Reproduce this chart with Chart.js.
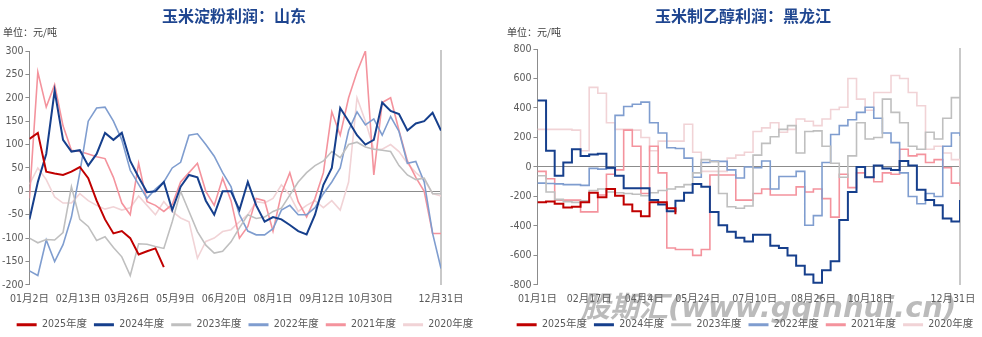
<!DOCTYPE html>
<html>
<head>
<meta charset="utf-8">
<script src="https://cdn.jsdelivr.net/npm/chart.js@4.4.1/dist/chart.umd.min.js"></script>
<style>
  body { margin: 0; width: 982px; height: 337px; background: #fff; position: relative; overflow: hidden; }
  .panel { position: absolute; top: 0; height: 344px; }
  .title { position: absolute; top: 3px; font: bold 16px 'Noto Sans CJK SC', sans-serif; color: #1f4690; white-space: nowrap; }
  .unit { position: absolute; top: 24px; font: 10px 'Noto Sans CJK SC', sans-serif; color: #404040; white-space: nowrap; }
  .mark { position: absolute; left: 581px; top: 283px; font: italic bold 29px 'DejaVu Sans', 'Noto Sans CJK SC', sans-serif;
          color: rgba(120,120,120,0.5); white-space: nowrap; z-index: 5; }
</style>
</head>
<body>
<div class="panel" style="left:0;width:490px"><canvas id="sd"></canvas></div>
<div class="panel" style="left:490px;width:492px"><canvas id="hlj"></canvas></div>
<div class="title" style="left:162px">玉米淀粉利润：山东</div>
<div class="unit" style="left:3px">单位：元/吨</div>
<div class="title" style="left:655px">玉米制乙醇利润：黑龙江</div>
<div class="unit" style="left:507px">单位：元/吨</div>
<div class="mark">股期汇(www.gqinhui.cn)</div>
<script>
// 序号步长：每个点间隔 5 个交易日
const STEP = 5;
const years = ['2025年度', '2024年度', '2023年度', '2022年度', '2021年度', '2020年度'];
const colors = ['#c00000', '#163f8c', '#bfbfbf', '#7f9dcf', '#f4939d', '#f1d3d6'];
const widths = [2, 2, 1.6, 1.6, 1.6, 1.6];

// 玉米淀粉利润：山东
const sdTickPos = [0, 29, 58, 87, 116, 145, 174, 203, 245];
const sdTickLabels = ['01月2日', '02月13日', '03月26日', '05月9日', '06月20日', '08月1日', '09月12日', '10月30日', '12月31日'];
const sd2025 = [112, 125, 42, 38, 35, 42, 52, 28, -20, -60, -90, -85, -100, -135, -128, -122, -162,
  null, null, null, null, null, null, null, null, null, null, null, null, null, null, null, null,
  null, null, null, null, null, null, null, null, null, null, null, null, null, null, null, null, null];
const sd2024 = [-60, 20, 80, 215, 110, 85, 88, 55, 80, 125,
  110, 125, 65, 30, -2, 0, 20, -40, 10, 35,
  30, -20, -50, 0, 0, -40, 20, -30, -65, -55,
  -60, -72, -85, -92, -50, 14, 50, 178, 150, 120,
  100, 110, 190, 172, 165, 130, 145, 150, 168, 130];
const sd2023 = [-100, -110, -103, -104, -88, 10, -60, -75, -105, -97,
  -120, -140, -180, -112, -113, -118, -122, -65, 0, -43,
  -86, -115, -132, -128, -108, -78, -50, -58, -55, -43,
  -36, -8, 20, 40, 55, 65, 85, 72, 100, 105,
  95, 90, 88, 85, 55, 35, 25, 28, -5, -5];
const sd2022 = [-170, -180, -104, -150, -114, -55, 40, 150, 178, 180,
  150, 110, 45, 15, -15, 5, 20, 50, 62, 120,
  123, 100, 75, 40, 10, -50, -85, -93, -93, -80,
  -40, -30, -50, -50, -35, -5, 20, 50, 130, 170,
  142, 155, 120, 160, 128, 60, 64, 20, -90, -165];
const sd2021 = [-15, 255, 180, 228, 140, 88, 85, 80, 74, 70,
  30, -25, -50, 60, -22, -30, -43, -28, 20, 40,
  60, 0, -30, 28, -20, -100, -75, -15, -20, -85,
  -5, 40, -22, -55, -15, 40, 170, 120, 200, 255,
  300, 35, 190, 200, 130, 65, 30, 0, -90, -90];
const sd2020 = [15, 50, 25, -12, -25, -25, -5, -20, -30, -38,
  -33, -40, -35, -10, -30, -50, -22, -43, -57, -65,
  -143, -107, -100, -86, -82, -65, -50, -22, -25, -15,
  14, -8, -43, -30, -20, -35, -20, -40, 20, 200,
  150, 90, 90, 100, 85, 60, 40, 25, -5, -10];

// 玉米制乙醇利润：黑龙江
const hljTickPos = [0, 30, 62, 93, 126, 160, 193, 241];
const hljTickLabels = ['01月1日', '02月17日', '04月4日', '05月24日', '07月10日', '08月26日', '10月18日', '12月31日'];
const hlj2025 = [-240, -235, -250, -275, -270, -240, -175, -205, -150, -195, -255, -300, -335, -240, -240, -280, -320,
  null, null, null, null, null, null, null, null, null, null, null, null, null, null, null, null,
  null, null, null, null, null, null, null, null, null, null, null, null, null, null, null, null, null];
const hlj2024 = [450, 110, -60, 30, 120, 75, 85, 90, -5, -60,
  -145, -145, -145, -225, -255, -300, -230, -175, -115, -135,
  -305, -395, -440, -480, -505, -460, -460, -535, -550, -600,
  -670, -730, -785, -700, -640, -360, -170, 0, -70, 10,
  -10, -20, 40, 10, -155, -225, -260, -350, -370, -225];
const hlj2023 = [-60, -170, -220, -235, -240, -230, -160, -150, -170, -175,
  -180, -185, -195, -175, -160, -150, -135, -120, -40, 50,
  35, -180, -270, -280, -265, 80, 160, 205, 255, 280,
  95, 240, 245, 140, 25, -70, 75, 300, 190, 200,
  460, 370, 300, 140, 120, 235, 190, 330, 470, 465];
const hlj2022 = [-110, -112, -115, -120, -120, -125, -10, -15, -10, 350,
  410, 425, 440, 300, 230, 130, 125, 60, -70, 30,
  40, 38, -20, -75, 0, -5, 40, -150, -65, -65,
  -30, -395, -330, 30, 220, 280, 320, 370, 405, 330,
  230, 165, -40, -200, -250, -180, -200, 140, 230, 210];
const hlj2021 = [-30, -80, -225, -225, -225, -305, -305, -190, -50, -20,
  250, 140, -180, 140, -40, -550, -560, -560, -600, -560,
  -55, -55, -55, -225, -225, -180, -150, -190, -190, -190,
  -135, -170, -150, -215, -340, -50, -140, -40, -70, -100,
  -40, -50, 120, 75, 85, 30, 50, -5, -110, -130];
const hlj2020 = [255, 255, 255, 255, 250, 110, 540, 500, 300, 255,
  255, 250, 200, 110, 175, 175, 175, 290, 100, -30,
  -30, -30, 60, 80, 100, 240, 265, 300, 235, 255,
  325, 310, 280, 325, 390, 405, 600, 460, 385, 505,
  505, 620, 600, 505, 415, 120, 140, 95, 50, 0];

const FONT = "'Liberation Sans Narrow', 'DejaVu Sans Condensed', 'Noto Sans CJK SC', sans-serif";
Chart.defaults.font.family = FONT;
Chart.defaults.font.size = 10.5;
Chart.defaults.color = '#595959';

function toPoints(vals) {
  return vals.map((v, i) => ({ x: i * STEP, y: v }));
}

function makeChart(id, series, opt) {
  const datasets = series.map((vals, k) => ({
    label: years[k],
    data: toPoints(vals),
    borderColor: colors[k],
    backgroundColor: colors[k],
    borderWidth: widths[k],
    pointRadius: 0,
    tension: 0,
    stepped: opt.stepped
  }));
  return new Chart(document.getElementById(id), {
    type: 'line',
    data: { datasets },
    options: {
      responsive: true,
      maintainAspectRatio: false,
      animation: false,
      layout: { padding: opt.padding },
      plugins: {
        tooltip: { enabled: false },
        legend: {
          position: 'bottom',
          labels: {
            boxWidth: 20, boxHeight: 3, padding: 7,
            generateLabels: (chart) => Chart.defaults.plugins.legend.labels.generateLabels(chart)
              .map(l => Object.assign(l, { lineWidth: 0 }))
          }
        }
      },
      scales: {
        x: {
          type: 'linear', min: 0, max: 245,
          afterBuildTicks: (axis) => { axis.ticks = opt.tickPos.map(v => ({ value: v })); },
          // 日期标签与图例之间多留一点空
          afterFit: (s) => { s.height += 7; },
          ticks: {
            autoSkip: false, maxRotation: 0, padding: 0,
            callback: (v) => opt.tickLabels[opt.tickPos.indexOf(v)]
          },
          grid: { display: false },
          border: { display: false }
        },
        y: {
          min: opt.min, max: opt.max,
          ticks: { stepSize: opt.step, padding: 2 },
          grid: {
            color: (c) => (c.tick && c.tick.value === 0) ? '#8c8c8c' : 'rgba(0,0,0,0)',
            tickColor: '#8c8c8c', tickLength: 4
          },
          border: { color: '#8c8c8c' }
        },
        // 右侧竖线，同时留出右边空白
        y2: {
          position: 'right',
          ticks: { display: false },
          grid: { drawOnChartArea: false, drawTicks: false },
          border: { color: '#c9c9c9', width: 2 },
          afterFit: (s) => { s.width = opt.rightGap; }
        }
      }
    }
  });
}

makeChart('sd', [sd2025, sd2024, sd2023, sd2022, sd2021, sd2020], {
  min: -200, max: 300, step: 50, stepped: false,
  tickPos: sdTickPos, tickLabels: sdTickLabels, rightGap: 49,
  padding: { top: 51, left: 0, right: 0, bottom: 4 }
});
makeChart('hlj', [hlj2025, hlj2024, hlj2023, hlj2022, hlj2021, hlj2020], {
  min: -800, max: 800, step: 200, stepped: true,
  tickPos: hljTickPos, tickLabels: hljTickLabels, rightGap: 22,
  padding: { top: 49, left: 18, right: 0, bottom: 4 }
});
</script>
</body>
</html>
